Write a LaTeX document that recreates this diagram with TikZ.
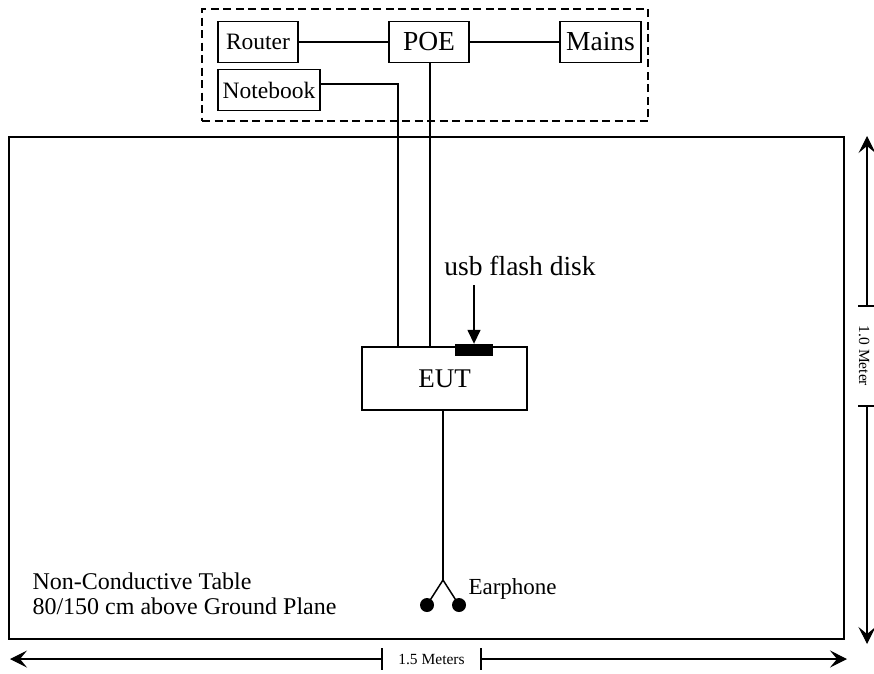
\documentclass[tikz,border=0pt]{standalone}
\usepackage{fontspec}
\setmainfont{Liberation Serif}
\usetikzlibrary{arrows.meta}

\begin{document}
\begin{tikzpicture}[x=1pt,y=-1pt,
  box/.style={draw,line width=1.5pt,inner sep=0pt,minimum height=41pt},
  wire/.style={line width=1.5pt},
  dimline/.style={line width=1.1pt,-{Stealth[length=17pt,width=17pt,inset=7pt]}},
  tick/.style={line width=1.1pt},
  smalltxt/.style={font=\fontsize{23.5}{25}\selectfont},
  bigtxt/.style={font=\fontsize{27.5}{29}\selectfont},
  desctxt/.style={font=\fontsize{24}{26}\selectfont},
  dimtxt/.style={font=\fontsize{15.5}{17}\selectfont}]
\useasboundingbox (0,0) rectangle (874,673);

% equipment outside the table
\node[draw,dash pattern=on 8pt off 4.5pt,line width=1.5pt,inner sep=0pt,
      minimum width=446pt,minimum height=112pt] (aux) at (425,65) {};
\node[box,minimum width=80pt,smalltxt] (router) at (258,42) {Router};
\node[box,minimum width=80pt,bigtxt] (poe) at (429,42) {POE};
\node[box,minimum width=81pt,bigtxt] (mains) at (600.5,42) {Mains};
\node[box,minimum width=102pt,smalltxt] (notebook) at (269,90) {Notebook};

% table
\node[draw,line width=2.8pt,inner sep=0pt,minimum width=835pt,minimum height=502pt]
  (table) at (426.5,388) {};

% EUT with usb flash disk
\node[draw,line width=1.5pt,inner sep=0pt,minimum width=165pt,minimum height=63pt,
      font=\fontsize{27}{29}\selectfont] (eut) at (444.5,378.5) {EUT};
\node[fill=black,inner sep=0pt,minimum width=38pt,minimum height=12pt] (usb) at (474,350) {};
\node[bigtxt] (usblabel) at (520,266) {usb flash disk};
\draw[line width=1.5pt,-{Triangle[length=14pt,width=13pt]}]
  (usblabel.south -| usb.north) ++(0,6) -- (usb.north);

% cables
\coordinate (nbin) at (398,347);
\coordinate (poein) at (430,347);
\draw[wire] (router.east) -- (poe.west);
\draw[wire] (poe.east) -- (mains.west);
\draw[wire] ([yshift=6pt]notebook.east) -| (nbin);
\draw[wire] (poe.south -| poein) -- (poein);

% earphone
\coordinate (split) at (443,580);
\node[circle,fill=black,inner sep=0pt,minimum size=14pt] (earL) at (427,605) {};
\node[circle,fill=black,inner sep=0pt,minimum size=14pt] (earR) at (459,605) {};
\draw[wire] (eut.south -| split) -- (split);
\draw[wire] (earL.center) -- (split) -- (earR.center);
\node[anchor=west,font=\fontsize{23}{25}\selectfont] (earlabel) at (465,589) {Earphone};

% table description
\node[anchor=west,desctxt] (tabdesc1) at (29,581) {Non-Conductive Table};
\node[anchor=west,desctxt] (tabdesc2) at (29,606) {80/150 cm above Ground Plane};

% horizontal dimension
\coordinate (hl) at (10,659);
\coordinate (hr) at (847,659);
\coordinate (hta) at (382,659);
\coordinate (htb) at (481,659);
\draw[dimline] (hta) -- (hl);
\draw[dimline] (htb) -- (hr);
\draw[tick] (382,648) -- (382,670);
\draw[tick] (481,648) -- (481,670);
\node[dimtxt] (hlabel) at (431.5,659) {1.5 Meters};

% vertical dimension
\coordinate (vt) at (867,136);
\coordinate (vb) at (867,644);
\coordinate (vta) at (867,306);
\coordinate (vtb) at (867,406);
\draw[dimline] (vta) -- (vt);
\draw[dimline] (vtb) -- (vb);
\draw[tick] (858,306) -- (874,306);
\draw[tick] (858,406) -- (874,406);
\node[dimtxt,rotate=-90,anchor=base] (vlabel) at (859,356) {1.0 Meter};
\end{tikzpicture}
\end{document}
